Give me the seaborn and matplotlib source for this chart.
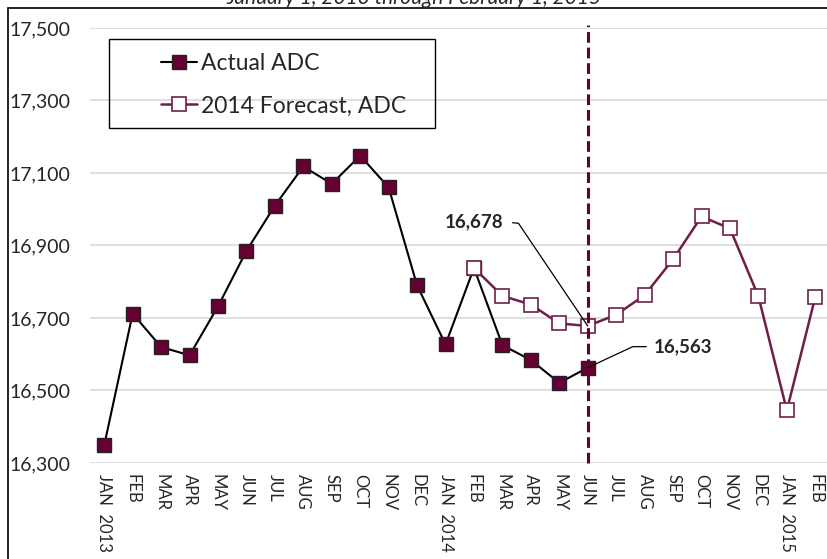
import numpy as np
import pandas as pd
import matplotlib
matplotlib.use("Agg")
import matplotlib.pyplot as plt
import seaborn as sns
from matplotlib.patches import Rectangle

# ---- data ----
month_labels = ["JAN  2013", "FEB", "MAR", "APR", "MAY", "JUN", "JUL", "AUG", "SEP", "OCT", "NOV", "DEC",
                "JAN  2014", "FEB", "MAR", "APR", "MAY", "JUN", "JUL", "AUG", "SEP", "OCT", "NOV", "DEC",
                "JAN  2015", "FEB"]
actual_adc = [16349, 16712, 16620, 16597, 16732, 16885, 17010, 17118, 17070, 17148, 17060, 16790,
              16627, 16838, 16625, 16584, 16521, 16563]
forecast_start = 13  # FEB 2014
forecast_adc = [16838, 16761, 16737, 16685, 16678, 16709, 16763, 16862, 16980, 16947, 16760, 16445, 16758]
yticks = [16300, 16500, 16700, 16900, 17100, 17300, 17500]
title = "January 1, 2013 through February 1, 2015"
split_index = 17  # JUN 2014
label_forecast = 16678
label_actual = 16563

actual_df = pd.DataFrame({"idx": range(len(actual_adc)), "value": actual_adc})
forecast_df = pd.DataFrame({"idx": range(forecast_start, forecast_start + len(forecast_adc)),
                            "value": forecast_adc})

sns.set_theme(style="white")
plt.rcParams["font.family"] = ["Lato", "DejaVu Sans"]

W, H = 827, 559
fig = plt.figure(figsize=(W / 100, H / 100), dpi=100)
ax = fig.add_axes([90 / W, 1 - 463 / H, (829.5 - 90) / W, (463 - 28) / H])

maroon = "#660033"
fc_color = "#6E1F48"

sns.lineplot(data=actual_df, x="idx", y="value", ax=ax, color="black", linewidth=1.5,
             marker="s", markersize=11.5, markerfacecolor=maroon, markeredgecolor="#222222",
             markeredgewidth=1.0, label="Actual ADC", zorder=3)
sns.lineplot(data=forecast_df, x="idx", y="value", ax=ax, color=fc_color, linewidth=1.8,
             marker="s", markersize=11.5, markerfacecolor="white", markeredgecolor=fc_color,
             markeredgewidth=1.2, label="2014 Forecast, ADC", zorder=4)

ax.set_xlim(-0.5, len(month_labels) - 0.5)
ax.set_ylim(yticks[0], yticks[-1])
ax.set_yticks(yticks)
ax.set_yticklabels([f"{v:,}" for v in yticks], fontsize=14)
ax.set_xticks(range(len(month_labels)))
ax.set_xticklabels(month_labels, rotation=-90, fontsize=12, va="top", ha="center")
ax.tick_params(axis="y", length=0, pad=14)
ax.tick_params(axis="x", length=0, pad=8)
ax.set_xlabel("")
ax.set_ylabel("")
for s in ax.spines.values():
    s.set_visible(False)
ax.grid(axis="y", color="#d9d9d9", linewidth=1.2)
ax.grid(axis="x", visible=False)
ax.set_axisbelow(True)

# vertical dashed split line
ax.plot([split_index, split_index], [yticks[0], yticks[-1] + 8], color=maroon, linewidth=2.2,
        linestyle=(0, (3.5, 1.6)), zorder=6, clip_on=False)

# annotations
ax.annotate(f"{label_forecast:,}", xy=(split_index, label_forecast), xytext=(-84, 104),
            textcoords="offset pixels", ha="right", va="center", fontsize=13.5, fontweight="bold",
            arrowprops=dict(arrowstyle="-", color="black", linewidth=0.9, shrinkA=4, shrinkB=0,
                            relpos=(1, 0.5), connectionstyle="angle,angleA=-5,angleB=124,rad=0"),
            zorder=7)
ax.annotate(f"{label_actual:,}", xy=(split_index, label_actual), xytext=(66, 21),
            textcoords="offset pixels", ha="left", va="center", fontsize=13.5, fontweight="bold",
            arrowprops=dict(arrowstyle="-", color="black", linewidth=0.9, shrinkA=3, shrinkB=0,
                            relpos=(0, 0.5), connectionstyle="angle,angleA=180,angleB=25,rad=0"),
            zorder=7)

# legend with manual frame
ax.legend_.remove()
handles, labels = ax.get_legend_handles_labels()
for h in handles:
    h.set_markersize(9.5)
leg = fig.legend(handles, labels, loc="center left", bbox_to_anchor=(140 / W, 1 - 84.5 / H),
                 frameon=False, fontsize=16.5, handlelength=1.6, handletextpad=0.15,
                 labelspacing=0.95)
fig.patches.append(Rectangle((109 / W, 1 - 128 / H), (435 - 109) / W, (128 - 39) / H,
                             transform=fig.transFigure, fill=False, edgecolor="black",
                             linewidth=1.0))

# outer border and (cropped) title
fig.patches.append(Rectangle((8 / W, -0.05), 1.1, 1 - 8 / H + 0.05, transform=fig.transFigure,
                             fill=False, edgecolor="black", linewidth=1.2))
fig.text(414 / W, 1 - 4 / H, title, ha="center", va="baseline", fontsize=15, style="italic")

fig.savefig("out.png", dpi=100)
